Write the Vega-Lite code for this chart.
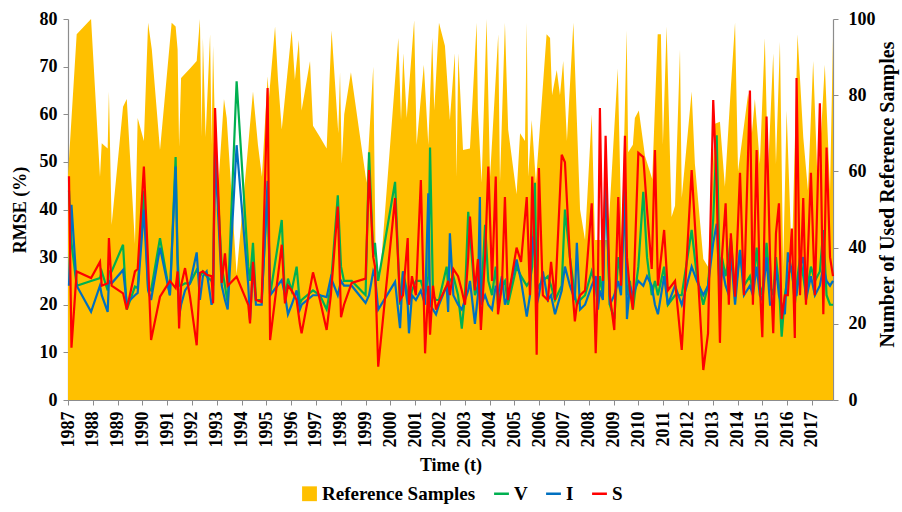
{
  "$schema": "https://vega.github.io/schema/vega-lite/v6.json",
  "width": 765,
  "height": 381,
  "autosize": {"type": "none"},
  "padding": {"left": 68, "top": 19, "right": 69, "bottom": 112},
  "background": "white",
  "config": {
    "font": "Liberation Serif",
    "view": {"stroke": null},
    "axis": {
      "grid": false,
      "labelFont": "Liberation Serif",
      "titleFont": "Liberation Serif",
      "labelFontSize": 18,
      "titleFontSize": 18,
      "labelFontWeight": "bold",
      "titleFontWeight": "bold",
      "labelColor": "#000000",
      "titleColor": "#000000",
      "domainColor": "#8c8c8c",
      "tickColor": "#8c8c8c",
      "tickSize": 5,
      "domainWidth": 1.2
    },
    "legend": {
      "labelFont": "Liberation Serif",
      "labelFontSize": 19,
      "labelFontWeight": "bold",
      "labelColor": "#000000",
      "title": null,
      "orient": "none",
      "direction": "horizontal",
      "legendX": 232,
      "legendY": 465,
      "symbolSize": 220,
      "symbolStrokeWidth": 2.5,
      "columnPadding": 13,
      "labelOffset": 3
    }
  },
  "datasets": {
    "samples": [
      {"t": 1987.00, "n": 59}, {"t": 1987.35, "n": 96}, {"t": 1987.93, "n": 100}, {"t": 1988.29, "n": 58.6},
      {"t": 1988.36, "n": 67.4}, {"t": 1988.60, "n": 66}, {"t": 1988.65, "n": 81}, {"t": 1988.76, "n": 46},
      {"t": 1989.22, "n": 77}, {"t": 1989.37, "n": 79}, {"t": 1989.70, "n": 41}, {"t": 1989.81, "n": 74},
      {"t": 1990.06, "n": 68}, {"t": 1990.23, "n": 99}, {"t": 1990.38, "n": 92}, {"t": 1990.71, "n": 65.6},
      {"t": 1991.18, "n": 99}, {"t": 1991.34, "n": 98}, {"t": 1991.42, "n": 92}, {"t": 1991.48, "n": 66.5},
      {"t": 1991.56, "n": 84.5}, {"t": 1991.92, "n": 87}, {"t": 1992.19, "n": 89}, {"t": 1992.32, "n": 100},
      {"t": 1992.39, "n": 69}, {"t": 1992.44, "n": 95}, {"t": 1992.55, "n": 69}, {"t": 1992.73, "n": 96},
      {"t": 1992.79, "n": 67}, {"t": 1992.85, "n": 93}, {"t": 1993.00, "n": 50}, {"t": 1993.29, "n": 79},
      {"t": 1993.40, "n": 74}, {"t": 1993.80, "n": 33}, {"t": 1994.46, "n": 81}, {"t": 1994.66, "n": 67},
      {"t": 1994.82, "n": 58.6}, {"t": 1995.05, "n": 85}, {"t": 1995.10, "n": 79}, {"t": 1995.35, "n": 98},
      {"t": 1995.47, "n": 84}, {"t": 1995.62, "n": 71}, {"t": 1996.02, "n": 97}, {"t": 1996.15, "n": 84},
      {"t": 1996.31, "n": 94.5}, {"t": 1996.42, "n": 76}, {"t": 1996.76, "n": 89}, {"t": 1996.88, "n": 72},
      {"t": 1997.16, "n": 69}, {"t": 1997.43, "n": 66}, {"t": 1997.63, "n": 97}, {"t": 1997.90, "n": 70},
      {"t": 1997.97, "n": 86}, {"t": 1998.04, "n": 62}, {"t": 1998.14, "n": 75}, {"t": 1998.41, "n": 86},
      {"t": 1999.04, "n": 57}, {"t": 1999.31, "n": 87.5}, {"t": 1999.41, "n": 35}, {"t": 1999.58, "n": 32},
      {"t": 2000.32, "n": 95}, {"t": 2000.43, "n": 73.5}, {"t": 2000.52, "n": 91}, {"t": 2000.66, "n": 74},
      {"t": 2000.96, "n": 99.7}, {"t": 2001.06, "n": 67}, {"t": 2001.35, "n": 88}, {"t": 2001.53, "n": 67},
      {"t": 2001.69, "n": 95}, {"t": 2001.77, "n": 76}, {"t": 2001.96, "n": 99}, {"t": 2002.20, "n": 93},
      {"t": 2002.40, "n": 73.5}, {"t": 2002.60, "n": 91}, {"t": 2002.67, "n": 58.6}, {"t": 2002.74, "n": 91},
      {"t": 2002.93, "n": 65.6}, {"t": 2003.21, "n": 66}, {"t": 2003.48, "n": 99}, {"t": 2003.53, "n": 76},
      {"t": 2003.68, "n": 57}, {"t": 2003.88, "n": 100}, {"t": 2004.02, "n": 58.6}, {"t": 2004.35, "n": 96},
      {"t": 2004.42, "n": 57}, {"t": 2004.62, "n": 99}, {"t": 2004.75, "n": 71}, {"t": 2005.09, "n": 54},
      {"t": 2005.23, "n": 70}, {"t": 2005.43, "n": 68}, {"t": 2005.50, "n": 99}, {"t": 2005.56, "n": 58.6},
      {"t": 2005.70, "n": 73.5}, {"t": 2005.87, "n": 57}, {"t": 2006.30, "n": 96}, {"t": 2006.44, "n": 95},
      {"t": 2006.52, "n": 80}, {"t": 2006.71, "n": 86.6}, {"t": 2006.84, "n": 80}, {"t": 2006.97, "n": 89},
      {"t": 2007.12, "n": 68}, {"t": 2007.38, "n": 99}, {"t": 2007.65, "n": 50}, {"t": 2007.85, "n": 42},
      {"t": 2008.12, "n": 75}, {"t": 2008.25, "n": 42}, {"t": 2008.77, "n": 42}, {"t": 2009.17, "n": 87},
      {"t": 2009.33, "n": 41}, {"t": 2009.53, "n": 97}, {"t": 2009.59, "n": 65}, {"t": 2009.78, "n": 67},
      {"t": 2009.86, "n": 74}, {"t": 2010.02, "n": 76}, {"t": 2010.27, "n": 64}, {"t": 2010.56, "n": 58},
      {"t": 2010.78, "n": 96}, {"t": 2010.91, "n": 96}, {"t": 2010.99, "n": 67}, {"t": 2011.14, "n": 98},
      {"t": 2011.34, "n": 48}, {"t": 2011.48, "n": 51}, {"t": 2011.68, "n": 92}, {"t": 2011.75, "n": 53},
      {"t": 2012.15, "n": 81}, {"t": 2012.28, "n": 62}, {"t": 2012.62, "n": 37}, {"t": 2012.81, "n": 35},
      {"t": 2013.09, "n": 72.5}, {"t": 2013.29, "n": 73}, {"t": 2013.49, "n": 56}, {"t": 2013.73, "n": 82},
      {"t": 2013.90, "n": 99}, {"t": 2014.02, "n": 60}, {"t": 2014.18, "n": 68}, {"t": 2014.43, "n": 80.5},
      {"t": 2014.58, "n": 70}, {"t": 2014.70, "n": 79}, {"t": 2014.90, "n": 62}, {"t": 2015.10, "n": 95},
      {"t": 2015.23, "n": 60}, {"t": 2015.44, "n": 91}, {"t": 2015.55, "n": 62}, {"t": 2015.71, "n": 94},
      {"t": 2015.84, "n": 35}, {"t": 2015.98, "n": 76}, {"t": 2016.19, "n": 36}, {"t": 2016.42, "n": 96},
      {"t": 2016.65, "n": 69}, {"t": 2016.84, "n": 55}, {"t": 2017.05, "n": 89}, {"t": 2017.24, "n": 55},
      {"t": 2017.52, "n": 88}, {"t": 2017.73, "n": 55}, {"t": 2017.85, "n": 95}
    ],
    "rmse": [
      {"t": 1987.04, "V": 44, "I": 24, "S": 47},
      {"t": 1987.14, "V": 33, "I": 41, "S": 11},
      {"t": 1987.35, "V": 24, "I": 24, "S": 27},
      {"t": 1987.93, "V": 25, "I": 18.5, "S": 25.6},
      {"t": 1988.29, "V": 25.6, "I": 24, "S": 29},
      {"t": 1988.36, "V": 27, "I": 22, "S": 24},
      {"t": 1988.60, "V": 23, "I": 18.5, "S": 24.5},
      {"t": 1988.65, "V": 27, "I": 25, "S": 34},
      {"t": 1988.76, "V": 27, "I": 24.5, "S": 24},
      {"t": 1989.22, "V": 32.6, "I": 27.3, "S": 22.4},
      {"t": 1989.37, "V": 19, "I": 20.3, "S": 19},
      {"t": 1989.70, "V": 23.8, "I": 22, "S": 27},
      {"t": 1989.81, "V": 23.5, "I": 22.5, "S": 27.5},
      {"t": 1990.06, "V": 44, "I": 40, "S": 49},
      {"t": 1990.23, "V": 23.4, "I": 23, "S": 29},
      {"t": 1990.35, "V": 23, "I": 21, "S": 12.6},
      {"t": 1990.71, "V": 34, "I": 32, "S": 21.7},
      {"t": 1991.11, "V": 22, "I": 22, "S": 25},
      {"t": 1991.34, "V": 51, "I": 49, "S": 23.5},
      {"t": 1991.42, "V": 30, "I": 28, "S": 27},
      {"t": 1991.48, "V": 24, "I": 17.5, "S": 15},
      {"t": 1991.56, "V": 24, "I": 20, "S": 24},
      {"t": 1991.72, "V": 24.5, "I": 23, "S": 27.7},
      {"t": 1991.92, "V": 24.5, "I": 24.5, "S": 21.7},
      {"t": 1992.19, "V": 27.3, "I": 31, "S": 11.5},
      {"t": 1992.32, "V": 26, "I": 21, "S": 26.7},
      {"t": 1992.44, "V": 27, "I": 26, "S": 27},
      {"t": 1992.59, "V": 26, "I": 27, "S": 26.3},
      {"t": 1992.79, "V": 25, "I": 20, "S": 26},
      {"t": 1992.85, "V": 24, "I": 21, "S": 20.3},
      {"t": 1992.93, "V": 54, "I": 52, "S": 61.3},
      {"t": 1993.20, "V": 28, "I": 24, "S": 24.6},
      {"t": 1993.33, "V": 24, "I": 21, "S": 30.8},
      {"t": 1993.44, "V": 20.3, "I": 19, "S": 24},
      {"t": 1993.80, "V": 66.9, "I": 53.5, "S": 25.9},
      {"t": 1994.27, "V": 28, "I": 24, "S": 20},
      {"t": 1994.34, "V": 25, "I": 16.8, "S": 16.1},
      {"t": 1994.46, "V": 33, "I": 28, "S": 29},
      {"t": 1994.58, "V": 21, "I": 20, "S": 21},
      {"t": 1994.81, "V": 21, "I": 20, "S": 20.6},
      {"t": 1995.05, "V": 44, "I": 46, "S": 65.5},
      {"t": 1995.15, "V": 22, "I": 22, "S": 12.6},
      {"t": 1995.62, "V": 37.8, "I": 25.2, "S": 32.6},
      {"t": 1995.75, "V": 21, "I": 22, "S": 20.3},
      {"t": 1995.87, "V": 25.5, "I": 18, "S": 24},
      {"t": 1996.02, "V": 23, "I": 20, "S": 23},
      {"t": 1996.22, "V": 28, "I": 23, "S": 21},
      {"t": 1996.35, "V": 20.3, "I": 19, "S": 16},
      {"t": 1996.42, "V": 21, "I": 20, "S": 14},
      {"t": 1996.88, "V": 23, "I": 22, "S": 26.8},
      {"t": 1997.16, "V": 22, "I": 22, "S": 21},
      {"t": 1997.43, "V": 19, "I": 21.6, "S": 14.7},
      {"t": 1997.60, "V": 24, "I": 25.7, "S": 22},
      {"t": 1997.88, "V": 43, "I": 22, "S": 40.6},
      {"t": 1998.01, "V": 28, "I": 25, "S": 17.4},
      {"t": 1998.13, "V": 25, "I": 24, "S": 20},
      {"t": 1998.44, "V": 25, "I": 24, "S": 24.6},
      {"t": 1999.00, "V": 22, "I": 20.4, "S": 25.5},
      {"t": 1999.14, "V": 52, "I": 22, "S": 48.3},
      {"t": 1999.31, "V": 30, "I": 27, "S": 30},
      {"t": 1999.38, "V": 33, "I": 26, "S": 28},
      {"t": 1999.51, "V": 25, "I": 19, "S": 7},
      {"t": 2000.19, "V": 45.8, "I": 24.8, "S": 42.4},
      {"t": 2000.39, "V": 20, "I": 15.1, "S": 21},
      {"t": 2000.51, "V": 27, "I": 27, "S": 22},
      {"t": 2000.70, "V": 22, "I": 20, "S": 34},
      {"t": 2000.75, "V": 20, "I": 14, "S": 20},
      {"t": 2000.87, "V": 23, "I": 22, "S": 26},
      {"t": 2001.03, "V": 25, "I": 21, "S": 22},
      {"t": 2001.23, "V": 25, "I": 23, "S": 46.2},
      {"t": 2001.40, "V": 22, "I": 20, "S": 9.8},
      {"t": 2001.53, "V": 26, "I": 43.4, "S": 24},
      {"t": 2001.60, "V": 53, "I": 20, "S": 13.7},
      {"t": 2001.72, "V": 22, "I": 19, "S": 24},
      {"t": 2001.84, "V": 21, "I": 18, "S": 19},
      {"t": 2001.96, "V": 21, "I": 20, "S": 20.6},
      {"t": 2002.27, "V": 28, "I": 24, "S": 24},
      {"t": 2002.33, "V": 24, "I": 18.5, "S": 25},
      {"t": 2002.40, "V": 25, "I": 35, "S": 22},
      {"t": 2002.54, "V": 26, "I": 22, "S": 27.5},
      {"t": 2002.73, "V": 22, "I": 20, "S": 26},
      {"t": 2002.88, "V": 15, "I": 19, "S": 23},
      {"t": 2003.01, "V": 22, "I": 21, "S": 20},
      {"t": 2003.14, "V": 39.5, "I": 23, "S": 30},
      {"t": 2003.21, "V": 35, "I": 25, "S": 38.5},
      {"t": 2003.41, "V": 22, "I": 16, "S": 23},
      {"t": 2003.53, "V": 24, "I": 22, "S": 29.6},
      {"t": 2003.61, "V": 28, "I": 42.6, "S": 20},
      {"t": 2003.65, "V": 20, "I": 20, "S": 14.7},
      {"t": 2003.82, "V": 36.8, "I": 22, "S": 30},
      {"t": 2003.95, "V": 25, "I": 20, "S": 49},
      {"t": 2004.10, "V": 22, "I": 19, "S": 25},
      {"t": 2004.25, "V": 28, "I": 24, "S": 46.9},
      {"t": 2004.34, "V": 20, "I": 22, "S": 18},
      {"t": 2004.50, "V": 24, "I": 26, "S": 24},
      {"t": 2004.62, "V": 25, "I": 20, "S": 42.6},
      {"t": 2004.74, "V": 20, "I": 22, "S": 21},
      {"t": 2005.09, "V": 28, "I": 29.5, "S": 32},
      {"t": 2005.27, "V": 26, "I": 25, "S": 29},
      {"t": 2005.50, "V": 24, "I": 17.5, "S": 42.6},
      {"t": 2005.63, "V": 25, "I": 22, "S": 22},
      {"t": 2005.72, "V": 28, "I": 34.3, "S": 46.9},
      {"t": 2005.83, "V": 45.6, "I": 30, "S": 30},
      {"t": 2005.90, "V": 23, "I": 20, "S": 9.5},
      {"t": 2005.99, "V": 24, "I": 22, "S": 48.7},
      {"t": 2006.15, "V": 25, "I": 27, "S": 22},
      {"t": 2006.35, "V": 26, "I": 21, "S": 21},
      {"t": 2006.48, "V": 24, "I": 22, "S": 29},
      {"t": 2006.64, "V": 21, "I": 18, "S": 21},
      {"t": 2006.91, "V": 24, "I": 23, "S": 51.5},
      {"t": 2007.04, "V": 40, "I": 28, "S": 49.9},
      {"t": 2007.24, "V": 30, "I": 24, "S": 30},
      {"t": 2007.44, "V": 22, "I": 21, "S": 16.5},
      {"t": 2007.52, "V": 20, "I": 33, "S": 20},
      {"t": 2007.65, "V": 21, "I": 19, "S": 22},
      {"t": 2007.85, "V": 22, "I": 20, "S": 23},
      {"t": 2008.12, "V": 27, "I": 24, "S": 41.3},
      {"t": 2008.28, "V": 24, "I": 26, "S": 9.8},
      {"t": 2008.37, "V": 20, "I": 19, "S": 25},
      {"t": 2008.45, "V": 26, "I": 23, "S": 61.3},
      {"t": 2008.57, "V": 22, "I": 21, "S": 25},
      {"t": 2008.68, "V": 48, "I": 46.9, "S": 55.5},
      {"t": 2008.85, "V": 20, "I": 20, "S": 22},
      {"t": 2009.03, "V": 17, "I": 22, "S": 14.7},
      {"t": 2009.19, "V": 30, "I": 25, "S": 42.6},
      {"t": 2009.30, "V": 26, "I": 22, "S": 24},
      {"t": 2009.46, "V": 42.6, "I": 44.7, "S": 55.5},
      {"t": 2009.54, "V": 22, "I": 17, "S": 30},
      {"t": 2009.66, "V": 25, "I": 24, "S": 23},
      {"t": 2009.78, "V": 19, "I": 22, "S": 19},
      {"t": 2010.00, "V": 28, "I": 25, "S": 51.9},
      {"t": 2010.20, "V": 43.7, "I": 24, "S": 51},
      {"t": 2010.35, "V": 30, "I": 26, "S": 40},
      {"t": 2010.54, "V": 22, "I": 24, "S": 27.5},
      {"t": 2010.67, "V": 25, "I": 20, "S": 52.5},
      {"t": 2010.79, "V": 22, "I": 18, "S": 24},
      {"t": 2011.04, "V": 28, "I": 26, "S": 35.7},
      {"t": 2011.19, "V": 20, "I": 20, "S": 23},
      {"t": 2011.48, "V": 22, "I": 24, "S": 25},
      {"t": 2011.75, "V": 22, "I": 20, "S": 10.5},
      {"t": 2012.15, "V": 35.7, "I": 28, "S": 48.3},
      {"t": 2012.36, "V": 26, "I": 25, "S": 30},
      {"t": 2012.62, "V": 20, "I": 22, "S": 6.3},
      {"t": 2012.81, "V": 24, "I": 24, "S": 14},
      {"t": 2013.02, "V": 38, "I": 33, "S": 63},
      {"t": 2013.16, "V": 55.6, "I": 37, "S": 45},
      {"t": 2013.29, "V": 24, "I": 22, "S": 12},
      {"t": 2013.37, "V": 30, "I": 28, "S": 30},
      {"t": 2013.52, "V": 26, "I": 24, "S": 41.3},
      {"t": 2013.65, "V": 30, "I": 22, "S": 20},
      {"t": 2013.73, "V": 34, "I": 31, "S": 35},
      {"t": 2013.90, "V": 22, "I": 20, "S": 21.7},
      {"t": 2014.10, "V": 31.5, "I": 31.5, "S": 47.7},
      {"t": 2014.26, "V": 24, "I": 22, "S": 22},
      {"t": 2014.50, "V": 26, "I": 24, "S": 65},
      {"t": 2014.62, "V": 23, "I": 22, "S": 20},
      {"t": 2014.77, "V": 32, "I": 28, "S": 52.5},
      {"t": 2014.90, "V": 24, "I": 22, "S": 24},
      {"t": 2015.00, "V": 22, "I": 21, "S": 13.2},
      {"t": 2015.17, "V": 33, "I": 30, "S": 59.5},
      {"t": 2015.31, "V": 24, "I": 20, "S": 30},
      {"t": 2015.44, "V": 22, "I": 20, "S": 14},
      {"t": 2015.55, "V": 30, "I": 28, "S": 35},
      {"t": 2015.67, "V": 24, "I": 22, "S": 41.3},
      {"t": 2015.78, "V": 13.3, "I": 20, "S": 17},
      {"t": 2015.91, "V": 22, "I": 18, "S": 22},
      {"t": 2016.03, "V": 26, "I": 31, "S": 22},
      {"t": 2016.19, "V": 28, "I": 27, "S": 36},
      {"t": 2016.31, "V": 20, "I": 22, "S": 13},
      {"t": 2016.38, "V": 24, "I": 22, "S": 67.6},
      {"t": 2016.52, "V": 30, "I": 28, "S": 22},
      {"t": 2016.65, "V": 26, "I": 30, "S": 42.4},
      {"t": 2016.76, "V": 22, "I": 21, "S": 20},
      {"t": 2016.96, "V": 28, "I": 26, "S": 47.7},
      {"t": 2017.12, "V": 25, "I": 22, "S": 22},
      {"t": 2017.32, "V": 27, "I": 24, "S": 62.3},
      {"t": 2017.46, "V": 35.7, "I": 28, "S": 18},
      {"t": 2017.59, "V": 22, "I": 25, "S": 53},
      {"t": 2017.73, "V": 20, "I": 24, "S": 30},
      {"t": 2017.85, "V": 20, "I": 25, "S": 26}
    ]
  },
  "encoding": {
    "x": {
      "field": "t",
      "type": "quantitative",
      "scale": {"domain": [1987, 2017.85], "nice": false, "zero": false},
      "axis": {
        "values": [1987, 1988, 1989, 1990, 1991, 1992, 1993, 1994, 1995, 1996, 1997, 1998, 1999, 2000, 2001, 2002, 2003, 2004, 2005, 2006, 2007, 2008, 2009, 2010, 2011, 2012, 2013, 2014, 2015, 2016, 2017],
        "format": "d",
        "labelAngle": -90,
        "labelPadding": 6,
        "title": "Time (t)",
        "titlePadding": 9
      }
    }
  },
  "layer": [
    {
      "data": {"name": "samples"},
      "mark": {"type": "area", "interpolate": "linear", "opacity": 1},
      "encoding": {
        "y": {
          "field": "n",
          "type": "quantitative",
          "scale": {"domain": [0, 100], "nice": false},
          "axis": {
            "orient": "right",
            "values": [0, 20, 40, 60, 80, 100],
            "title": "Number of Used Reference Samples",
            "titleAngle": -90,
            "titleFontSize": 20,
            "titleAlign": "center",
            "titleY": 175,
            "labelPadding": 10,
            "titlePadding": 22
          }
        },
        "color": {
          "datum": "Reference Samples",
          "type": "nominal",
          "scale": {
            "domain": ["Reference Samples", "V", "I", "S"],
            "range": ["#FFC000", "#00B050", "#0070C0", "#FF0000"]
          },
          "legend": {
            "encode": {
              "symbols": {
                "update": {
                  "shape": {"signal": "datum.label === 'Reference Samples' ? 'square' : 'stroke'"},
                  "fill": {"signal": "datum.label === 'Reference Samples' ? '#FFC000' : 'transparent'"},
                  "stroke": {"signal": "datum.label === 'V' ? '#00B050' : datum.label === 'I' ? '#0070C0' : datum.label === 'S' ? '#FF0000' : '#FFC000'"},
                  "strokeWidth": {"signal": "datum.label === 'Reference Samples' ? 0 : 2.5"},
                  "opacity": {"value": 1}
                }
              }
            }
          }
        }
      }
    },
    {
      "data": {"name": "rmse"},
      "layer": [
        {
          "mark": {"type": "line", "strokeWidth": 2.2},
          "encoding": {
            "y": {
              "field": "V",
              "type": "quantitative",
              "scale": {"domain": [0, 80], "nice": false},
              "axis": {"orient": "left", "values": [0, 10, 20, 30, 40, 50, 60, 70, 80], "title": "RMSE (%)", "labelPadding": 6, "titlePadding": 10}
            },
            "color": {
              "datum": "V", "type": "nominal",
              "legend": {
                "encode": {
                  "symbols": {
                    "update": {
                      "shape": {"signal": "datum.label === 'Reference Samples' ? 'square' : 'stroke'"},
                      "fill": {"signal": "datum.label === 'Reference Samples' ? '#FFC000' : 'transparent'"},
                      "stroke": {"signal": "datum.label === 'V' ? '#00B050' : datum.label === 'I' ? '#0070C0' : datum.label === 'S' ? '#FF0000' : '#FFC000'"},
                      "strokeWidth": {"signal": "datum.label === 'Reference Samples' ? 0 : 2.5"},
                      "opacity": {"value": 1}
                    }
                  }
                }
              }
            }
          }
        },
        {
          "mark": {"type": "line", "strokeWidth": 2.2},
          "encoding": {
            "y": {
              "field": "I",
              "type": "quantitative",
              "scale": {"domain": [0, 80], "nice": false},
              "axis": {"orient": "left", "values": [0, 10, 20, 30, 40, 50, 60, 70, 80], "title": "RMSE (%)", "labelPadding": 6, "titlePadding": 10}
            },
            "color": {
              "datum": "I", "type": "nominal",
              "legend": {
                "encode": {
                  "symbols": {
                    "update": {
                      "shape": {"signal": "datum.label === 'Reference Samples' ? 'square' : 'stroke'"},
                      "fill": {"signal": "datum.label === 'Reference Samples' ? '#FFC000' : 'transparent'"},
                      "stroke": {"signal": "datum.label === 'V' ? '#00B050' : datum.label === 'I' ? '#0070C0' : datum.label === 'S' ? '#FF0000' : '#FFC000'"},
                      "strokeWidth": {"signal": "datum.label === 'Reference Samples' ? 0 : 2.5"},
                      "opacity": {"value": 1}
                    }
                  }
                }
              }
            }
          }
        },
        {
          "mark": {"type": "line", "strokeWidth": 2.2},
          "encoding": {
            "y": {
              "field": "S",
              "type": "quantitative",
              "scale": {"domain": [0, 80], "nice": false},
              "axis": {"orient": "left", "values": [0, 10, 20, 30, 40, 50, 60, 70, 80], "title": "RMSE (%)", "labelPadding": 6, "titlePadding": 10}
            },
            "color": {
              "datum": "S", "type": "nominal",
              "legend": {
                "encode": {
                  "symbols": {
                    "update": {
                      "shape": {"signal": "datum.label === 'Reference Samples' ? 'square' : 'stroke'"},
                      "fill": {"signal": "datum.label === 'Reference Samples' ? '#FFC000' : 'transparent'"},
                      "stroke": {"signal": "datum.label === 'V' ? '#00B050' : datum.label === 'I' ? '#0070C0' : datum.label === 'S' ? '#FF0000' : '#FFC000'"},
                      "strokeWidth": {"signal": "datum.label === 'Reference Samples' ? 0 : 2.5"},
                      "opacity": {"value": 1}
                    }
                  }
                }
              }
            }
          }
        }
      ]
    }
  ],
  "resolve": {"scale": {"y": "independent"}}
}
